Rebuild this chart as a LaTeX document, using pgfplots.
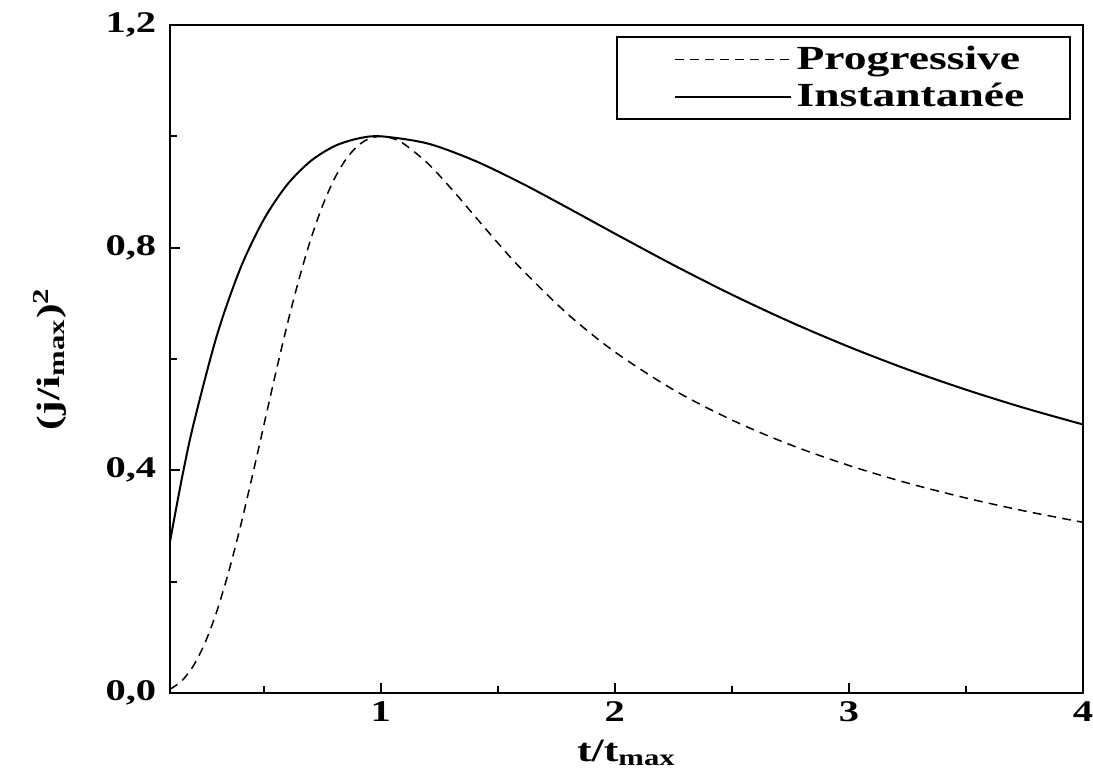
\documentclass[border=0pt]{standalone}
\usepackage{fontspec}
\setmainfont{Liberation Serif}[FakeStretch=1.35]
\usepackage{pgfplots}
\pgfplotsset{compat=1.18}

\pgfplotstableread{
t      y
0.10   0.2724
0.15   0.3844
0.20   0.4825
0.30   0.6422
0.40   0.7624
0.50   0.8503
0.60   0.9130
0.70   0.9553
0.80   0.9819
0.90   0.9958
1.00   1.0000
1.20   0.9871
1.40   0.9564
1.60   0.9161
1.80   0.8712
2.00   0.8252
2.25   0.7688
2.50   0.7155
2.75   0.6664
3.00   0.6217
3.25   0.5812
3.50   0.5447
3.75   0.5118
4.00   0.4822
}\instant

\pgfplotstableread{
t      y
0.10   0.0065
0.15   0.0214
0.20   0.0488
0.25   0.0905
0.30   0.1469
0.35   0.2170
0.40   0.2980
0.45   0.3871
0.50   0.4797
0.55   0.5723
0.60   0.6608
0.65   0.7421
0.70   0.8137
0.75   0.8739
0.80   0.9220
0.85   0.9579
0.90   0.9822
0.95   0.9958
1.00   1.0000
1.05   0.9963
1.10   0.9861
1.20   0.9517
1.30   0.9066
1.40   0.8574
1.50   0.8085
1.60   0.7620
1.80   0.6801
2.00   0.6126
2.25   0.5446
2.50   0.4902
2.75   0.4456
3.00   0.4085
3.25   0.3770
3.50   0.3501
3.75   0.3268
4.00   0.3064
}\progr

\begin{document}
\begin{tikzpicture}
\begin{axis}[
  width=365pt, height=267pt, scale only axis,
  xmin=0.1, xmax=4, ymin=0, ymax=1.2,
  xtick={1,2,3,4},
  minor xtick={0.5,1.5,2.5,3.5},
  ytick={0,0.4,0.8,1.2},
  minor ytick={0.2,0.6,1.0},
  tick align=inside,
  xtick pos=bottom, ytick pos=left,
  major tick length=4pt, minor tick length=2.6pt,
  every tick/.style={line width=0.8pt, black},
  axis line style={line width=0.8pt},
  /pgf/number format/assume math mode=true,
  tick label style={font=\fontsize{12}{14}\selectfont\bfseries},
  y tick label style={xshift=-2pt, /pgf/number format/.cd, fixed, fixed zerofill, precision=1, use comma},
  xlabel={\bfseries t/t\textsubscript{max}},
  ylabel={\bfseries (j/i\textsubscript{max})\textsuperscript{2}},
  label style={font=\fontsize{13}{15}\selectfont},
  xlabel style={at={([yshift=-24pt]rel axis cs:0.5,0)}, anchor=center},
  ylabel style={at={([xshift=-48pt]rel axis cs:0,0.5)}, anchor=center},
  legend style={at={(rel axis cs:1,1)}, anchor=north east, xshift=-5pt, yshift=-4.5pt,
    draw=black, line width=0.8pt, font=\fontsize{13.5}{15}\selectfont\bfseries,
    inner xsep=16pt, inner ysep=1.5pt, row sep=0pt},
  legend cell align=left,
  legend image code/.code={\path (-7pt,0pt); \draw[#1] (0cm,0cm) -- (1.62cm,0cm);},
]
\addplot[black, line width=0.6pt, dash pattern=on 3.5pt off 2.5pt, smooth] table[x=t, y=y] {\progr};
\addlegendentry{Progressive}
\addplot[black, line width=0.8pt, smooth] table[x=t, y=y] {\instant};
\addlegendentry{Instantanée}
\coordinate (sw) at (rel axis cs:0,0);
\coordinate (ne) at (rel axis cs:1,1);
\end{axis}
\pgfresetboundingbox
\path ([shift={(-68pt,-35.6pt)}]sw) rectangle ([shift={(4pt,10pt)}]ne);
\end{tikzpicture}
\end{document}
